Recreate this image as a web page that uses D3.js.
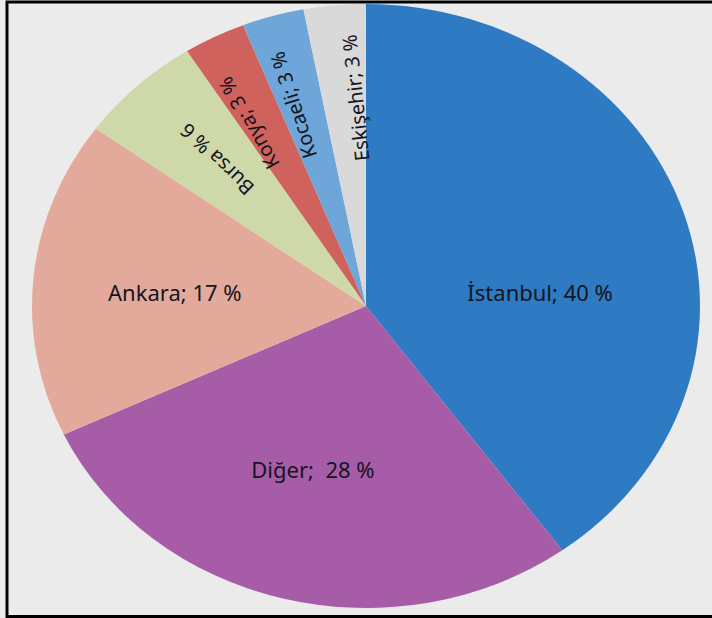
<!DOCTYPE html>
<html>
<head>
<meta charset="utf-8">
<script src="https://cdn.jsdelivr.net/npm/d3@7"></script>
<style>
  body { margin: 0; background: #ebebeb; }
  svg { display: block; }
</style>
</head>
<body>
<div class="container"></div>
<script>
const width = 712;
const height = 618;

// slices, clockwise from 12 o'clock
const cities = ["İstanbul", "Diğer", "Ankara", "Bursa", "Konya", "Kocaeli", "Eskişehir"];
const shares = [40, 28, 17, 6, 3, 3, 3];
const labels = ["İstanbul; 40 %", "Diğer;  28 %", "Ankara; 17 %", "Bursa % 6", "Konya; 3 %", "Kocaeli; 3 %", "Eskişehir; 3 %"];
const colors = ["#2e7bc3", "#a75ca8", "#e3aa9c", "#cfd8a9", "#d0625e", "#6ea6da", "#d9d9d9"];

// label layout: angle shift (deg) from slice middle, radius fraction, rotated or not
const labelShift = [13.3, 1.9, -1.1, 0.7, -3, -1.8, 2.9];
const labelRadius = [0.523, 0.566, 0.574, 0.66, 0.70, 0.70, 0.69];
const labelRotate = [false, false, false, true, true, true, true];

const cx = 366, cy = 306;
const rx = 334, ry = 302;

const svg = d3.select(".container")
    .append("svg")
    .attr("width", width)
    .attr("height", height);

svg.append("rect")
    .attr("width", width)
    .attr("height", height)
    .attr("fill", "#ebebeb");

const data = cities.map((c, i) => ({ city: c, value: shares[i], label: labels[i], i: i }));

const pie = d3.pie()
    .sort(null)
    .value(d => d.value);

const arcs = pie(data);

const arc = d3.arc()
    .innerRadius(0)
    .outerRadius(ry);

const g = svg.append("g")
    .attr("transform", `translate(${cx},${cy})`);

g.append("g")
    .attr("transform", `scale(${rx / ry},1)`)
    .selectAll("path")
    .data(arcs)
    .enter()
    .append("path")
    .attr("d", arc)
    .attr("fill", d => colors[d.data.i]);

function labelPos(d) {
    const mid = (d.startAngle + d.endAngle) / 2;
    const a = mid + labelShift[d.data.i] * Math.PI / 180;
    const r = labelRadius[d.data.i];
    const x = rx * r * Math.sin(a);
    const y = -ry * r * Math.cos(a);
    // text runs outward along the slice middle
    const rot = Math.atan2(-ry * Math.cos(mid), rx * Math.sin(mid)) * 180 / Math.PI;
    return { x, y, rot };
}

g.selectAll("text")
    .data(arcs)
    .enter()
    .append("text")
    .attr("transform", d => {
        const p = labelPos(d);
        return labelRotate[d.data.i]
            ? `translate(${p.x},${p.y}) rotate(${p.rot})`
            : `translate(${p.x},${p.y})`;
    })
    .attr("text-anchor", "middle")
    .attr("dy", "0.35em")
    .style("white-space", "pre")
    .attr("font-family", "'Noto Sans', sans-serif")
    .attr("font-size", d => labelRotate[d.data.i] ? 20 : 22)
    .attr("fill", "#151520")
    .text(d => d.data.label);

// frame (no right edge visible in the picture)
svg.append("rect")
    .attr("x", 7)
    .attr("y", 2)
    .attr("width", width + 20)
    .attr("height", 614.5)
    .attr("fill", "none")
    .attr("stroke", "#000")
    .attr("stroke-width", 3);
</script>
</body>
</html>
